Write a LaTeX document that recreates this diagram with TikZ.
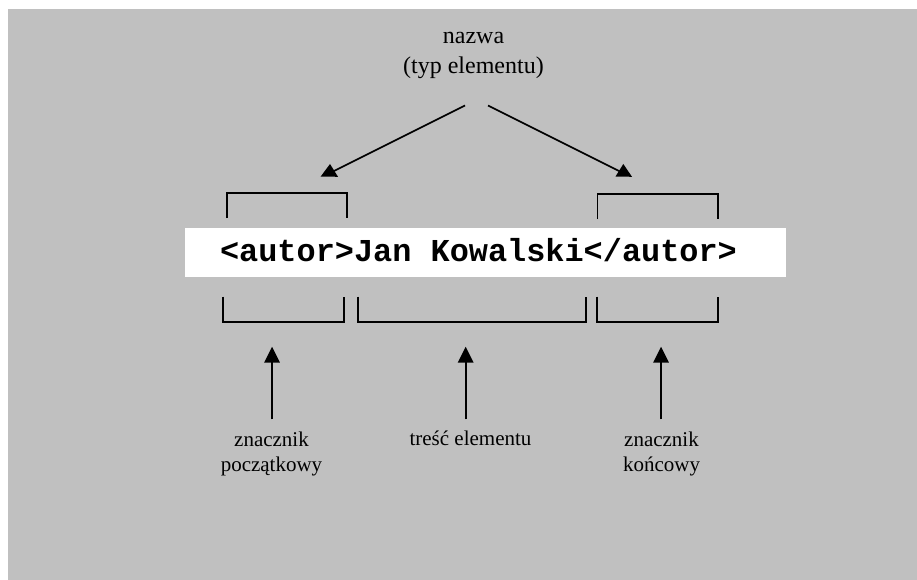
\documentclass[tikz,border=0pt]{standalone}
\usepackage{fontspec}
\setmainfont{Liberation Serif}
\setmonofont{Liberation Mono}
\usetikzlibrary{arrows.meta}
\definecolor{panel}{HTML}{C0C0C0}
\tikzset{
  lbl/.style={inner sep=0pt, align=center, font=\fontsize{21}{25}\selectfont},
  title/.style={inner sep=0pt, align=center, font=\fontsize{24}{30.5}\selectfont},
  brk/.style={line width=1.8pt, line join=miter},
  uparrow/.style={line width=1.7pt, -{Triangle[length=16pt,width=15.5pt]}},
  diag/.style={line width=1.7pt},
  headfill/.style={fill=black, draw=none}
}
\begin{document}
\begin{tikzpicture}[x=1pt,y=-1pt]
\useasboundingbox (0,0) rectangle (917,580);
\fill[white] (0,0) rectangle (917,580);
\fill[panel] (8,9) rectangle (917,580);

% heading (base anchor sits on the last line)
\node[title, anchor=base] (name) at (473.5,74) {nazwa\\(typ elementu)};

% white strip with the XML element
\fill[white] (185,228.3) rectangle (786,276.7);
\node[inner sep=0pt, anchor=base, font=\fontsize{31.9}{36}\selectfont\ttfamily\bfseries] (xml) at (478.5,261.7) {<autor>Jan Kowalski</autor>};

% brackets above the tags
\draw[brk] (227,218) -- (227,193.3) -- (347,193.3) -- (347,218);
\draw[brk] (597.5,219) -- (597.5,194.3) -- (717.7,194.3) -- (717.7,219);

% brackets below the parts
\draw[brk] (223.3,296.7) -- (223.3,321.7) -- (344.3,321.7) -- (344.3,296.7);
\draw[brk] (358.3,296.7) -- (358.3,321.7) -- (586,321.7) -- (586,296.7);
\draw[brk] (596.7,296.7) -- (596.7,321.7) -- (717.7,321.7) -- (717.7,296.7);

% diagonal arrows from the name
\coordinate (dl0) at (465,105.5);
\coordinate (dl1) at (331,172.5);
\coordinate (dr0) at (488,105.5);
\coordinate (dr1) at (622,172.5);
\draw[diag] (dl0) -- (dl1);
\draw[diag] (dr0) -- (dr1);
\fill[headfill] (320.7,176.5) -- (330,164) -- (338,176.8) -- cycle;
\fill[headfill] (615.5,176.5) -- (623.3,164) -- (632,176.8) -- cycle;

% labels below (base anchor sits on the last line)
\node[lbl, anchor=base] (start) at (271.5,471) {znacznik\\początkowy};
\node[lbl, anchor=base] (content) at (470.5,445) {treść elementu};
\node[lbl, anchor=base] (end) at (661.5,471) {znacznik\\końcowy};

% upward arrows
\coordinate (a0) at (272,419.3);
\coordinate (a1) at (272,346.7);
\coordinate (b0) at (465.7,419.3);
\coordinate (b1) at (465.7,346.7);
\coordinate (c0) at (661,419.3);
\coordinate (c1) at (661,346.7);
\draw[uparrow] (a0) -- (a1);
\draw[uparrow] (b0) -- (b1);
\draw[uparrow] (c0) -- (c1);
\end{tikzpicture}
\end{document}
